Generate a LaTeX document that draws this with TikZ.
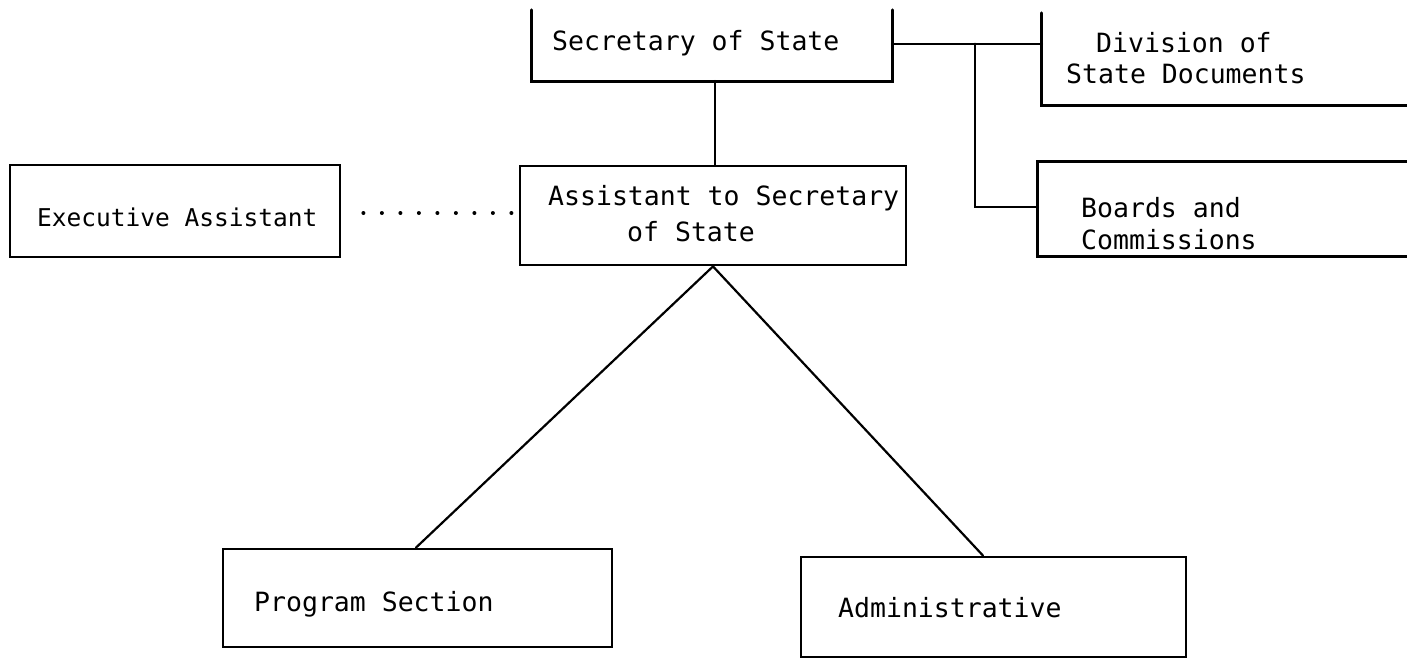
\documentclass[tikz,border=0pt]{standalone}
\usepackage{fontspec}
\newfontfamily\tw{DejaVu Sans Mono}
\begin{document}
\begin{tikzpicture}[x=1pt,y=-1pt,
  edge/.style={line width=2.8pt,line cap=round,line join=miter},
  thin/.style={line width=2.2pt,line cap=round},
  box/.style={draw,line width=2.8pt,inner sep=0pt,rectangle},
  hid/.style={inner sep=0pt,rectangle},
  lbl/.style={anchor=base west,inner sep=0pt,font=\tw\fontsize{26.5}{32}\selectfont},
  dots/.style={line width=4pt,line cap=round,dash pattern=on 0pt off 18.5pt}]
\useasboundingbox (0,0) rectangle (1407,659);
% boxes
\node[hid,minimum width=360pt,minimum height=82pt] (sec) at (712,40) {};
\node[hid,minimum width=370pt,minimum height=93pt] (div) at (1227,58.5) {};
\node[hid,minimum width=375pt,minimum height=94pt] (brd) at (1225.5,209) {};
\node[box,minimum width=330pt,minimum height=92pt] (exec) at (175,211) {};
\node[box,minimum width=386pt,minimum height=99pt] (asst) at (713,215.5) {};
\node[box,minimum width=389pt,minimum height=98pt] (prog) at (417.5,598) {};
\node[box,minimum width=385pt,minimum height=100pt] (adm) at (993.5,607) {};
% open boxes
\draw[edge] ([yshift=-11pt]sec.north west) -- (sec.south west) -- (sec.south east) -- ([yshift=-11pt]sec.north east);
\draw[edge] ([yshift=-1pt]div.north west) -- (div.south west) -- (div.south east);
\draw[edge] (brd.north east) -- (brd.north west) -- (brd.south west) -- (brd.south east);
% labels
\node[lbl] (tsec) at (552,50) {Secretary of State};
\node[lbl] (tdiv1) at (1096,52) {Division of};
\node[lbl] (tdiv2) at (1066,83) {State Documents};
\node[lbl] (tbrd1) at (1081,217) {Boards and};
\node[lbl] (tbrd2) at (1081,249) {Commissions};
\node[lbl,font=\tw\fontsize{24.5}{32}\selectfont] (texec) at (37,226) {Executive Assistant};
\node[lbl] (tasst1) at (548,205) {Assistant to Secretary};
\node[lbl] (tasst2) at (627,241) {of State};
\node[lbl] (tprog) at (254,611) {Program Section};
\node[lbl] (tadm) at (838,617) {Administrative};
% connectors
\coordinate (j1) at (975,44);
\draw[edge] (sec.south -| 715,0) -- (asst.north -| 715,0);
\draw[edge] (sec.east |- j1) -- (div.west |- j1);
\draw[edge] (j1) -- (975,207) -- (brd.west |- 0,207);
\draw[dots] ([xshift=22pt]exec.east |- 0,213) -- ([xshift=-3pt]asst.west |- 0,213);
\draw[thin] (asst.south) -- (prog.north -| 416,0);
\draw[thin] (asst.south) -- (adm.north -| 983,0);
\end{tikzpicture}
\end{document}
